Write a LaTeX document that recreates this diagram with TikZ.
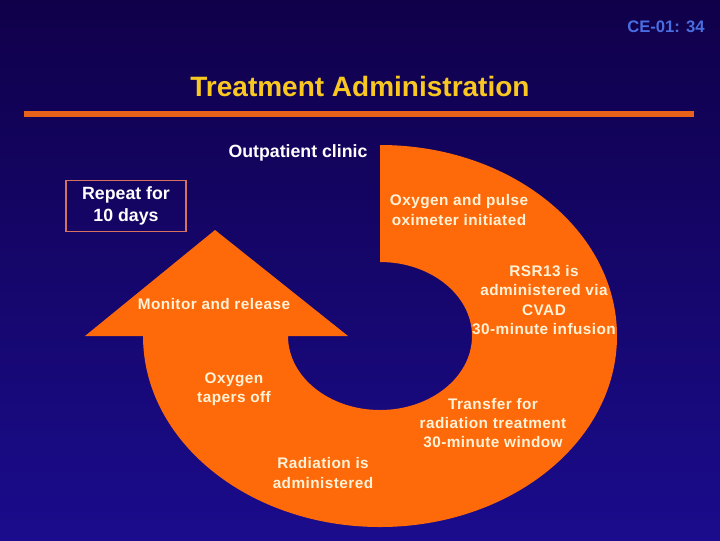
\documentclass[tikz,border=0pt]{standalone}
\usepackage{fontspec}
\setmainfont{Liberation Sans}
\newfontfamily\spacedsans[LetterSpace=3]{Liberation Sans}
\usetikzlibrary{shapes.geometric}
\definecolor{bgtop}{HTML}{10004A}
\definecolor{bgbot}{HTML}{1A0C8C}
\definecolor{orng}{HTML}{FE6A0A}
\definecolor{rule}{HTML}{E8621A}
\definecolor{ttl}{HTML}{F8C820}
\definecolor{slide}{HTML}{4A6EE0}
\definecolor{cream}{HTML}{FFF2D6}
\definecolor{boxline}{HTML}{D87060}
\tikzset{
  lbl/.style={text=cream, font=\spacedsans\bfseries\fontsize{11.5}{14.6}\selectfont, align=center, inner sep=0pt},
  whitelbl/.style={text=white, font=\bfseries\fontsize{13.3}{16.5}\selectfont, align=center, inner sep=0pt},
}
\begin{document}
\begin{tikzpicture}[x=0.75pt,y=-0.75pt]
\useasboundingbox (0,0) rectangle (720,540);
\shade[top color=bgtop, bottom color=bgbot] (0,0) rectangle (720,540);
% header
\node[text=slide, font=\bfseries\fontsize{12.5}{14}\selectfont, inner sep=0pt] (num) at (666,27) {CE-01: 34};
\node[text=ttl, font=\bfseries\fontsize{21}{24}\selectfont, inner sep=0pt] (title) at (360,86) {Treatment Administration};
\coordinate (rl) at (24,114);
\coordinate (rr) at (694,114);
\draw[rule, line width=4.5pt] (rl) -- (rr);
% circular arrow
\fill[orng] (380,145) arc[start angle=-90, end angle=180, x radius=237, y radius=191]
  -- (85,336) -- (215,230) -- (348,336) -- (288,336)
  arc[start angle=180, end angle=-90, x radius=92, y radius=74] -- cycle;
% labels
\node[whitelbl] (clinic) at (298,153) {Outpatient clinic};
\node[whitelbl, draw=boxline, line width=0.8pt, minimum width=90pt, minimum height=38pt] (repeat) at (126,206) {Repeat for\\10 days};
\node[lbl] (oxy) at (459,210) {Oxygen and pulse\\oximeter initiated};
\node[lbl] (rsr) at (544,300) {RSR13 is\\administered via\\CVAD\\30-minute infusion};
\node[lbl] (mon) at (214,304) {Monitor and release};
\node[lbl] (taper) at (234,389) {Oxygen\\tapers off};
\node[lbl] (trans) at (493,423) {Transfer for\\radiation treatment\\30-minute window};
\node[lbl] (rad) at (323,473) {Radiation is\\administered};
\end{tikzpicture}
\end{document}
